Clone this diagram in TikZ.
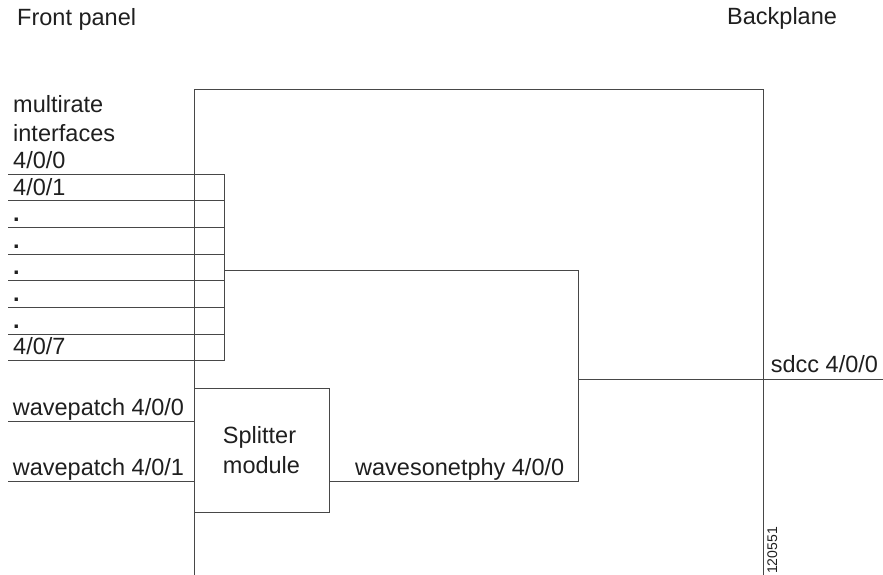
\documentclass[tikz,border=0pt]{standalone}
\usepackage{fontspec}
\setmainfont{Liberation Sans}
\begin{document}
\begin{tikzpicture}[x=1pt,y=-1pt,
  wire/.style={draw=black!72, line width=1pt},
  lbl/.style={anchor=base west, inner sep=0pt, text=black!88,
    font=\fontsize{23.5}{28.5}\selectfont},
  boxnode/.style={draw=black!72, line width=1pt, inner sep=0pt,
    minimum width=135pt, minimum height=124pt, align=left, text=black!88,
    font=\fontsize{23.5}{30}\selectfont},
  tag/.style={anchor=base west, inner sep=0pt, text=black!88, rotate=90,
    font=\fontsize{14}{16}\selectfont}]
\useasboundingbox (0,0) rectangle (883,575);

% titles
\node[lbl] (front) at (17,26) {Front panel};
\node[lbl] (back) at (727,25) {Backplane};

% frame: front panel line, top line, backplane line
\coordinate (ftop) at (194,90);
\coordinate (fbot) at (194,575);
\coordinate (btop) at (763,90);
\coordinate (bbot) at (763,575);
\draw[wire] (fbot) -- (ftop) -- (btop) -- (bbot);

% multirate interfaces
\node[lbl] (mr1) at (13,112.7) {multirate};
\node[lbl] (mr2) at (13,141.7) {interfaces};
\foreach \i in {0,...,7}{
  \pgfmathsetmacro{\yy}{174+26.67*\i}
  \coordinate (il\i) at (8,\yy);
  \coordinate (ir\i) at (224,\yy);
  \draw[wire] (il\i) -- (ir\i);
}
\node[lbl] (p0) at (13,168) {4/0/0};
\node[lbl] (p1) at (13,195) {4/0/1};
\node[lbl] (p2) at (13,221.5) {\bfseries .};
\node[lbl] (p3) at (13,248.2) {\bfseries .};
\node[lbl] (p4) at (13,274.9) {\bfseries .};
\node[lbl] (p5) at (13,301.5) {\bfseries .};
\node[lbl] (p6) at (13,328.2) {\bfseries .};
\node[lbl] (p7) at (13,354.7) {4/0/7};
\draw[wire] (ir0) -- (ir7);

% splitter module
\node[boxnode] (split) at (261.5,450) {Splitter\\module};
\coordinate (wp0l) at (8,421);
\coordinate (wp1l) at (8,481);
\draw[wire] (wp0l) -- (wp0l -| split.west);
\draw[wire] (wp1l) -- (wp1l -| split.west);
\node[lbl] (wp0) at (12.7,415.7) {wavepatch 4/0/0};
\node[lbl] (wp1) at (12.7,475) {wavepatch 4/0/1};

% wavesonetphy connector
\coordinate (ifout) at (224,270.7);
\coordinate (ca) at (578,270.7);
\coordinate (cb) at (578,481);
\coordinate (cs) at (578,379.3);
\coordinate (sdccend) at (883,379.3);
\draw[wire] (ifout) -- (ca) -- (cb) -- (split.east |- cb);
\draw[wire] (cs) -- (sdccend);
\node[lbl] (wsp) at (355,475) {wavesonetphy 4/0/0};
\node[lbl] (sdcc) at (770.7,372.3) {sdcc 4/0/0};

% figure number
\node[tag] (fig) at (777,574) {120551};
\end{tikzpicture}
\end{document}
